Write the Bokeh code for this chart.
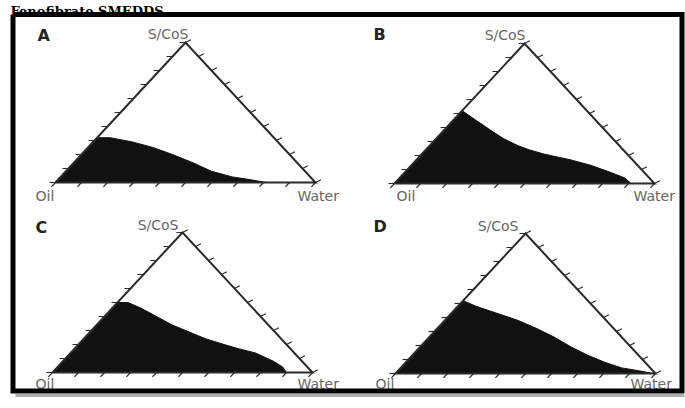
from bokeh.plotting import figure
from bokeh.models import Range1d
from bokeh.embed import file_html
from bokeh.resources import INLINE
from bokeh.core.properties import value

# ---- data: single-phase (microemulsion) region boundaries, ternary composition in %
# (water %, S/CoS %), oil % = 100 - water - S/CoS
panels = ["A", "B", "C", "D"]
A_water = [0, 0, 5, 15, 25, 35, 46, 56, 66, 74, 81]
A_scos = [0, 32, 32, 29, 25, 20, 14, 8, 4, 2, 0]
B_water = [0, 0, 9, 18, 26, 34, 40, 47, 53, 59, 69, 79, 86.5, 91]
B_scos = [0, 52, 45, 38, 32, 27, 24, 21, 19, 17, 13, 8, 4, 0]
C_water = [0, 0, 4, 11, 20, 29, 38, 47, 56, 63, 71, 81, 86.5, 90]
C_scos = [0, 50, 50, 46, 40, 34, 29, 24, 20, 17, 14, 8, 4, 0]
D_water = [0, 0, 7, 17.5, 28, 38.5, 48, 58, 67.5, 76.5, 85, 92.5, 99]
D_scos = [0, 52, 48, 43, 38, 32, 26, 19, 13, 8, 4, 2, 0]
vertex_labels = ["Oil", "Water", "S/CoS"]
header = "Fenofibrate SMEDDS"
tick_fracs = [i / 10 for i in range(11)]

regions = {"A": (A_water, A_scos), "B": (B_water, B_scos),
           "C": (C_water, C_scos), "D": (D_water, D_scos)}

# ---- layout (page pixel space)
W, H = 260, 140
origin = {"A": (55, 182), "B": (394, 183), "C": (52, 372), "D": (395, 373)}
letter_pos = {"A": (37, 35), "B": (373, 34), "C": (35, 227), "D": (373, 226)}
scos_pos = {"A": (188, 33), "B": (525, 34), "C": (178, 224), "D": (518, 225)}
oil_pos = {"A": (35, 195), "B": (396, 195), "C": (35, 383), "D": (375, 383)}
water_pos = {"A": (297, 195), "B": (633, 195), "C": (297, 383), "D": (630, 383)}

p = figure(width=685, height=408, x_range=Range1d(0, 685), y_range=Range1d(408, 0),
           output_backend="svg", toolbar_location=None, min_border=0,
           x_axis_type=None, y_axis_type=None, outline_line_color=None,
           background_fill_color="white", border_fill_color="white")
p.grid.visible = False


def to_xy(panel, water, scos):
    x0, y0 = origin[panel]
    xs = [x0 + (w / 100 + s / 200) * W for w, s in zip(water, scos)]
    ys = [y0 - (s / 100) * H for s in scos]
    return xs, ys


TL = 6
lx, ly = -130, 140
ln = (lx ** 2 + ly ** 2) ** 0.5
for pn in panels:
    x0, y0 = origin[pn]
    # region
    xs, ys = to_xy(pn, *regions[pn])
    p.patch(xs, ys, fill_color="#111111", line_color="#111111", line_width=1)
    # triangle
    tx, ty = to_xy(pn, [0, 100, 0, 0], [0, 0, 100, 0])
    p.line(tx, ty, line_color="#2a2a2a", line_width=2, line_join="miter")
    # ticks
    txs, tys = [], []
    for f in tick_fracs:
        ax, ay = to_xy(pn, [0], [f * 100])
        txs.append([ax[0], ax[0] - TL]); tys.append([ay[0], ay[0]])
        bx, by = to_xy(pn, [f * 100], [0])
        txs.append([bx[0], bx[0] + TL * lx / ln]); tys.append([by[0], by[0] + TL * ly / ln])
        cx, cy = to_xy(pn, [100 - f * 100], [f * 100])
        txs.append([cx[0], cx[0] + TL * 0.9]); tys.append([cy[0], cy[0] - TL * 0.45])
    p.multi_line(txs, tys, line_color="#2a2a2a", line_width=1.2)
    # labels
    p.text([letter_pos[pn][0]], [letter_pos[pn][1]], text=[pn], text_font=value("DejaVu Sans"),
           text_font_style="bold", text_font_size="16px", text_color="#222222",
           text_baseline="middle", text_align="left")
    p.text([scos_pos[pn][0]], [scos_pos[pn][1]], text=[vertex_labels[2]], text_font=value("DejaVu Sans"),
           text_font_size="14px", text_color="#666666", text_baseline="middle", text_align="right")
    p.text([oil_pos[pn][0]], [oil_pos[pn][1]], text=[vertex_labels[0]], text_font=value("DejaVu Sans"),
           text_font_size="14px", text_color="#666666", text_baseline="middle", text_align="left")
    p.text([water_pos[pn][0]], [water_pos[pn][1]], text=[vertex_labels[1]], text_font=value("DejaVu Sans"),
           text_font_size="14px", text_color="#666666", text_baseline="middle", text_align="left")

# header above the frame
p.text([10], [10.5], text=[header], text_font=value("DejaVu Serif"), text_font_style="bold",
       text_font_size="13px", text_color="black", text_baseline="alphabetic", text_align="left")

# frame box with slight shadow
p.line([15, 684], [395, 395], line_color="#b0b0b0", line_width=3)
p.line([12.5, 681.5, 681.5, 12.5, 12.5], [14, 14, 390.5, 390.5, 14],
       line_color="black", line_width=5, line_join="miter")

open("out.html", "w").write(file_html(p, INLINE))
